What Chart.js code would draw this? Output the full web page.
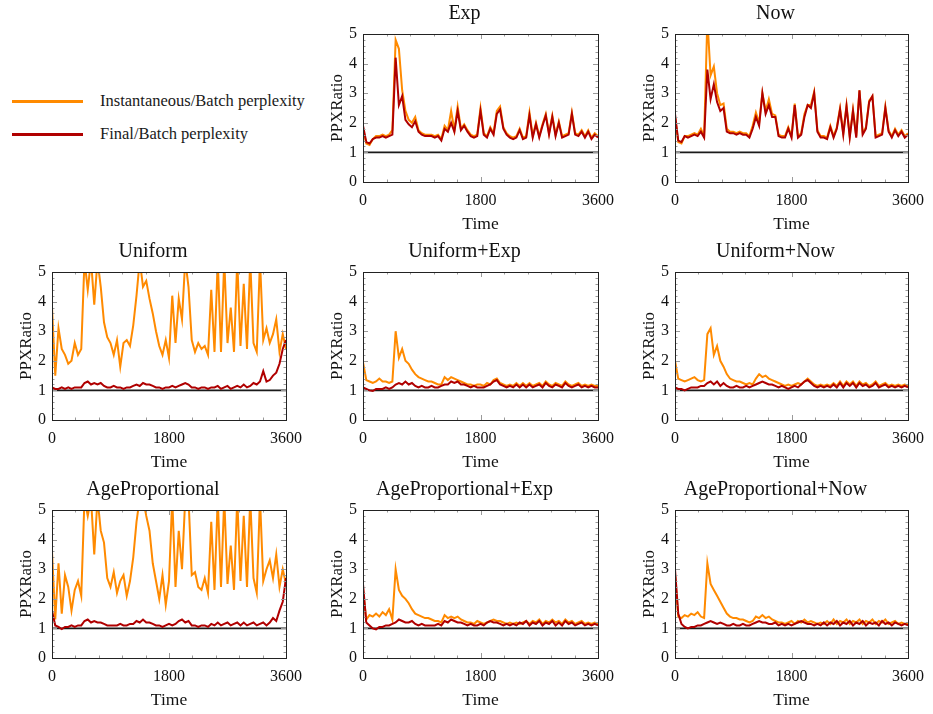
<!DOCTYPE html>
<html>
<head>
<meta charset="utf-8">
<script src="https://cdn.jsdelivr.net/npm/chart.js@4"></script>
<style>
  body { margin: 0; background: #fff; width: 933px; height: 714px; position: relative; overflow: hidden; font-family: "Liberation Serif", "Times New Roman", serif; }
  canvas { position: absolute; }
  .key { position: absolute; left: 12px; width: 71px; height: 3px; }
  .keytext { position: absolute; left: 100px; font-size: 16.5px; line-height: 20px; color: #1a1a1a; white-space: nowrap; }
</style>
</head>
<body>
<div class="key" style="top:100px;background:#ff8a00"></div>
<div class="keytext" style="top:91px">Instantaneous/Batch perplexity</div>
<div class="key" style="top:133px;background:#b00000"></div>
<div class="keytext" style="top:124px">Final/Batch perplexity</div>
<script>
// time axis (seconds) shared by every panel
const times = [0,50,100,150,200,250,300,350,400,450,500,550,600,650,700,750,800,850,900,950,
  1000,1050,1100,1150,1200,1250,1300,1350,1400,1450,1500,1550,1600,1650,1700,1750,1800,1850,1900,1950,
  2000,2050,2100,2150,2200,2250,2300,2350,2400,2450,2500,2550,2600,2650,2700,2750,2800,2850,2900,2950,
  3000,3050,3100,3150,3200,3250,3300,3350,3400,3450,3500,3550,3600];
const xTicks = [0, 1800, 3600];
const yTicks = [0, 1, 2, 3, 4, 5];
const baseline = 1;

// Instantaneous/Batch (orange) and Final/Batch (red) ratios per policy
const expInst = [1.8,1.3,1.25,1.45,1.55,1.55,1.6,1.55,1.6,1.75, 4.8,4.5,3.1,2.4,2.1,2.0,2.2,1.75,1.65,1.6,
  1.6,1.6,1.55,1.6,1.45,1.9,1.75,2.4,1.75,2.55, 1.8,1.95,1.75,1.6,1.55,1.6,2.5,1.65,1.55,1.85,
  1.65,2.4,2.55,1.85,1.65,1.55,1.5,1.55,1.8,1.5, 1.55,2.35,1.55,2.0,1.55,1.95,2.3,1.65,2.25,1.6,
  2.05,1.55,1.6,1.65,2.35,1.65,1.6,1.75,1.55,1.75, 1.5,1.65,1.55];
const expFinal = [1.9,1.35,1.3,1.45,1.5,1.5,1.55,1.5,1.55,1.6, 4.2,2.6,2.9,2.1,1.95,1.85,2.05,1.7,1.6,1.55,
  1.55,1.55,1.5,1.55,1.4,1.8,1.7,2.0,1.7,2.4, 1.75,1.9,1.7,1.55,1.5,1.55,2.4,1.6,1.5,1.8,
  1.6,2.3,2.45,1.8,1.6,1.5,1.45,1.5,1.75,1.45, 1.5,2.25,1.5,1.95,1.5,1.9,2.25,1.6,2.2,1.55,
  2.0,1.5,1.55,1.6,2.3,1.6,1.55,1.7,1.5,1.7, 1.45,1.6,1.5];

const nowInst = [2.2,1.35,1.3,1.55,1.55,1.6,1.65,1.6,1.8,1.55, 5.5,3.6,3.9,3.0,2.6,2.65,1.8,1.7,1.7,1.65,
  1.7,1.65,1.65,1.55,1.9,2.35,2.0,3.0,2.4,2.8, 2.3,2.25,1.6,1.55,1.55,1.85,1.55,2.65,1.55,1.65,
  2.3,2.6,2.6,3.05,1.75,1.55,1.55,1.5,1.9,1.55, 1.85,2.5,1.65,2.6,1.55,2.45,1.55,3.1,1.65,1.85,
  2.75,2.9,1.55,1.6,1.65,2.55,1.75,1.55,1.8,1.6, 1.75,1.55,1.65];
const nowFinal = [2.3,1.4,1.35,1.55,1.5,1.55,1.6,1.55,1.7,1.5, 3.8,2.8,3.3,2.7,2.4,2.5,1.7,1.65,1.65,1.6,
  1.65,1.6,1.6,1.5,1.8,2.2,1.9,3.0,2.3,2.6, 2.2,2.2,1.55,1.5,1.5,1.8,1.5,2.6,1.5,1.6,
  2.2,2.6,2.5,3.0,1.7,1.5,1.5,1.45,1.85,1.5, 1.8,2.45,1.6,2.55,1.5,2.4,1.5,3.1,1.6,1.8,
  2.7,2.9,1.5,1.55,1.6,2.5,1.7,1.5,1.75,1.55, 1.7,1.5,1.6];

const uniInst = [3.8,1.5,3.1,2.4,2.2,1.9,2.0,2.6,2.2,2.4, 5.4,4.4,5.4,3.9,5.4,4.5,3.3,2.8,2.6,2.2,
  2.7,1.8,2.6,2.7,2.5,3.2,4.2,5.4,4.5,4.7, 4.1,3.6,3.0,2.5,2.2,2.7,2.1,4.2,2.6,4.1,
  3.4,5.4,4.5,2.7,2.3,2.6,2.4,2.5,2.2,4.4, 2.3,5.4,2.3,5.4,2.6,3.8,2.3,5.4,2.5,4.6,
  2.4,5.4,2.6,2.3,5.4,2.7,3.1,2.6,2.9,3.4, 2.3,2.9,2.4];
const uniFinal = [1.1,1.05,1.05,1.1,1.05,1.1,1.05,1.1,1.1,1.1, 1.25,1.3,1.2,1.25,1.2,1.25,1.15,1.1,1.1,1.15,
  1.1,1.1,1.05,1.1,1.1,1.15,1.2,1.15,1.25,1.2, 1.2,1.15,1.1,1.1,1.05,1.1,1.1,1.15,1.1,1.15,
  1.2,1.25,1.2,1.1,1.1,1.05,1.1,1.1,1.05,1.1, 1.1,1.15,1.05,1.1,1.15,1.05,1.1,1.15,1.1,1.2,
  1.1,1.15,1.25,1.2,1.3,1.65,1.3,1.35,1.5,1.6, 1.9,2.4,2.7];

const uniExpInst = [1.95,1.35,1.3,1.25,1.3,1.4,1.3,1.3,1.25,1.3, 3.0,2.1,2.4,2.0,1.9,1.7,1.55,1.45,1.4,1.35,
  1.3,1.3,1.25,1.2,1.2,1.45,1.35,1.45,1.4,1.35, 1.3,1.25,1.2,1.2,1.15,1.2,1.2,1.15,1.25,1.2,
  1.35,1.4,1.25,1.2,1.15,1.2,1.15,1.25,1.15,1.25, 1.15,1.25,1.15,1.2,1.25,1.15,1.3,1.2,1.15,1.25,
  1.2,1.15,1.3,1.2,1.15,1.2,1.25,1.15,1.2,1.15, 1.2,1.15,1.15];
const uniExpFinal = [1.1,1.05,1.0,0.98,1.05,1.05,1.05,1.1,1.05,1.1, 1.2,1.25,1.2,1.3,1.2,1.25,1.15,1.1,1.15,1.1,
  1.1,1.15,1.1,1.1,1.15,1.2,1.2,1.3,1.25,1.3, 1.2,1.2,1.15,1.1,1.15,1.1,1.1,1.1,1.15,1.2,
  1.3,1.35,1.2,1.15,1.1,1.15,1.1,1.2,1.1,1.2, 1.1,1.2,1.1,1.15,1.2,1.1,1.25,1.15,1.1,1.2,
  1.15,1.1,1.25,1.15,1.1,1.15,1.2,1.1,1.15,1.1, 1.15,1.1,1.1];

const uniNowInst = [2.0,1.4,1.35,1.3,1.35,1.4,1.45,1.35,1.3,1.35, 2.9,3.1,2.2,2.5,2.0,1.8,1.55,1.4,1.35,1.3,
  1.3,1.25,1.2,1.25,1.2,1.4,1.55,1.45,1.5,1.4, 1.35,1.3,1.25,1.2,1.15,1.2,1.15,1.2,1.25,1.2,
  1.3,1.4,1.3,1.2,1.15,1.2,1.15,1.2,1.15,1.25, 1.15,1.3,1.15,1.3,1.2,1.3,1.15,1.3,1.2,1.25,
  1.15,1.2,1.3,1.15,1.2,1.25,1.15,1.2,1.15,1.2, 1.15,1.2,1.15];
const uniNowFinal = [1.1,1.05,1.05,1.0,1.05,1.1,1.1,1.1,1.15,1.15, 1.25,1.3,1.2,1.3,1.15,1.25,1.15,1.1,1.1,1.15,
  1.1,1.1,1.15,1.1,1.15,1.2,1.25,1.3,1.25,1.2, 1.2,1.15,1.1,1.15,1.1,1.05,1.1,1.15,1.1,1.2,
  1.3,1.35,1.25,1.15,1.1,1.15,1.1,1.15,1.1,1.2, 1.1,1.25,1.1,1.25,1.15,1.25,1.1,1.25,1.15,1.2,
  1.1,1.15,1.25,1.1,1.15,1.2,1.1,1.15,1.1,1.15, 1.1,1.15,1.1];

const ageInst = [3.6,1.3,3.2,1.5,2.8,2.4,1.6,2.3,2.6,2.1, 5.4,4.8,5.4,3.5,5.4,4.3,3.9,2.7,2.4,2.9,
  2.2,2.6,2.8,2.1,2.6,3.4,4.6,5.4,5.4,4.8, 4.3,3.2,2.6,2.0,2.8,1.8,2.6,5.4,2.4,4.3,
  3.0,5.4,5.4,2.8,2.9,2.4,2.3,2.7,2.2,4.6, 2.3,5.4,2.4,5.4,2.5,3.8,2.3,5.4,2.6,4.8,
  2.4,5.4,2.7,2.2,5.4,2.6,3.0,3.3,2.7,3.5, 2.4,3.0,2.5];
const ageFinal = [1.6,1.1,1.05,0.98,1.05,1.05,1.1,1.05,1.1,1.1, 1.25,1.3,1.2,1.25,1.2,1.2,1.15,1.1,1.1,1.1,
  1.1,1.15,1.1,1.1,1.15,1.15,1.25,1.2,1.3,1.2, 1.2,1.15,1.1,1.1,1.05,1.1,1.15,1.1,1.15,1.25,
  1.3,1.2,1.25,1.1,1.1,1.05,1.1,1.1,1.05,1.15, 1.1,1.2,1.1,1.15,1.2,1.1,1.15,1.2,1.1,1.2,
  1.1,1.15,1.2,1.1,1.15,1.2,1.1,1.2,1.35,1.25, 1.6,1.9,2.7];

const ageExpInst = [2.3,1.3,1.45,1.4,1.5,1.4,1.55,1.45,1.65,1.3, 3.0,2.3,2.1,2.0,1.85,1.65,1.5,1.45,1.4,1.35,
  1.35,1.3,1.25,1.25,1.2,1.45,1.35,1.4,1.35,1.4, 1.3,1.25,1.2,1.2,1.15,1.25,1.2,1.15,1.2,1.25,
  1.3,1.25,1.25,1.2,1.15,1.2,1.15,1.2,1.15,1.2, 1.25,1.15,1.25,1.2,1.3,1.15,1.25,1.2,1.3,1.2,
  1.25,1.15,1.3,1.2,1.25,1.15,1.2,1.25,1.15,1.2, 1.15,1.2,1.15];
const ageExpFinal = [2.5,1.2,1.1,1.0,0.97,1.05,1.05,1.1,1.1,1.15, 1.2,1.3,1.25,1.2,1.2,1.25,1.15,1.1,1.15,1.1,
  1.1,1.1,1.1,1.15,1.1,1.25,1.2,1.3,1.25,1.2, 1.2,1.15,1.1,1.15,1.1,1.1,1.15,1.1,1.2,1.25,
  1.2,1.2,1.15,1.1,1.15,1.1,1.15,1.1,1.2,1.15, 1.25,1.1,1.2,1.15,1.25,1.1,1.2,1.15,1.25,1.1,
  1.2,1.1,1.25,1.15,1.2,1.1,1.15,1.2,1.1,1.15, 1.1,1.15,1.1];

const ageNowInst = [2.8,1.4,1.35,1.45,1.4,1.5,1.45,1.55,1.4,1.35, 3.2,2.5,2.3,2.1,1.9,1.7,1.5,1.4,1.35,1.35,
  1.3,1.3,1.25,1.2,1.25,1.4,1.35,1.45,1.35,1.4, 1.3,1.25,1.2,1.2,1.15,1.2,1.25,1.15,1.25,1.2,
  1.3,1.2,1.25,1.2,1.15,1.2,1.15,1.25,1.15,1.3, 1.15,1.25,1.2,1.3,1.15,1.25,1.2,1.3,1.15,1.25,
  1.2,1.3,1.15,1.25,1.2,1.3,1.15,1.2,1.25,1.15, 1.2,1.15,1.15];
const ageNowFinal = [3.0,1.5,1.15,1.05,1.0,1.05,1.05,1.1,1.1,1.15, 1.2,1.25,1.2,1.15,1.2,1.15,1.1,1.1,1.15,1.1,
  1.1,1.15,1.1,1.1,1.15,1.2,1.25,1.2,1.2,1.15, 1.15,1.2,1.1,1.15,1.1,1.15,1.1,1.15,1.2,1.25,
  1.2,1.15,1.15,1.1,1.15,1.1,1.2,1.1,1.2,1.15, 1.25,1.1,1.2,1.15,1.25,1.1,1.2,1.15,1.25,1.1,
  1.2,1.15,1.2,1.1,1.25,1.15,1.2,1.1,1.2,1.15, 1.1,1.15,1.1];

const ORANGE = "#ff8a00";
const RED = "#b00000";
const SERIF = '"Liberation Serif", "Times New Roman", serif';

// plot-area rectangles in page pixels
const panels = [
  { title: "Exp", inst: expInst, fin: expFinal, l: 363, t: 34, r: 602, b: 182 },
  { title: "Now", inst: nowInst, fin: nowFinal, l: 675, t: 34, r: 912, b: 182 },
  { title: "Uniform", inst: uniInst, fin: uniFinal, l: 52, t: 272, r: 290, b: 420 },
  { title: "Uniform+Exp", inst: uniExpInst, fin: uniExpFinal, l: 363, t: 272, r: 602, b: 420 },
  { title: "Uniform+Now", inst: uniNowInst, fin: uniNowFinal, l: 675, t: 272, r: 912, b: 420 },
  { title: "AgeProportional", inst: ageInst, fin: ageFinal, l: 52, t: 510, r: 290, b: 658 },
  { title: "AgeProportional+Exp", inst: ageExpInst, fin: ageExpFinal, l: 363, t: 510, r: 602, b: 658 },
  { title: "AgeProportional+Now", inst: ageNowInst, fin: ageNowFinal, l: 675, t: 510, r: 912, b: 658 }
];

const PAD_L = 36, PAD_T = 34, PAD_R = 21, PAD_B = 56;

// Mathematica-like frame with inward ticks
const frameTicks = {
  id: "frameTicks",
  afterDraw(chart) {
    const { ctx, chartArea: a, scales: { x, y } } = chart;
    ctx.save();
    ctx.strokeStyle = "#9a9a9a";
    ctx.lineWidth = 1;
    ctx.beginPath();
    for (let k = 0; k <= 25; k++) {
      const py = Math.round(y.getPixelForValue(k / 5)) + 0.5;
      const len = k % 5 === 0 ? 5 : 2.5;
      ctx.moveTo(a.left, py); ctx.lineTo(a.left + len, py);
      ctx.moveTo(a.right, py); ctx.lineTo(a.right - len, py);
    }
    for (let k = 0; k <= 10; k++) {
      const px = Math.round(x.getPixelForValue(k * 360)) + 0.5;
      const len = k % 5 === 0 ? 5 : 2.5;
      ctx.moveTo(px, a.bottom); ctx.lineTo(px, a.bottom - len);
      ctx.moveTo(px, a.top); ctx.lineTo(px, a.top + len);
    }
    ctx.stroke();
    ctx.strokeStyle = "#222";
    ctx.strokeRect(Math.round(a.left) + 0.5, Math.round(a.top) + 0.5, Math.round(a.right - a.left), Math.round(a.bottom - a.top));
    ctx.restore();
  }
};

function points(values) {
  return values.map((v, i) => ({ x: times[i], y: v }));
}

panels.forEach(p => {
  const w = (p.r - p.l) + PAD_L + PAD_R;
  const h = (p.b - p.t) + PAD_T + PAD_B;
  const canvas = document.createElement("canvas");
  canvas.width = w;
  canvas.height = h;
  canvas.style.width = w + "px";
  canvas.style.height = h + "px";
  canvas.style.left = (p.l - PAD_L) + "px";
  canvas.style.top = (p.t - PAD_T) + "px";
  document.body.appendChild(canvas);

  const lineStyle = { pointRadius: 0, tension: 0, fill: false, clip: 0 };
  new Chart(canvas, {
    type: "line",
    data: {
      datasets: [
        { label: "Final/Batch perplexity", data: points(p.fin), borderColor: RED, borderWidth: 2, ...lineStyle },
        { label: "Instantaneous/Batch perplexity", data: points(p.inst), borderColor: ORANGE, borderWidth: 2, ...lineStyle },
        { label: "1", data: [{ x: times[0], y: baseline }, { x: times[times.length - 1], y: baseline }], borderColor: "#1a1a1a", borderWidth: 1.6, ...lineStyle }
      ]
    },
    options: {
      responsive: false,
      animation: false,
      devicePixelRatio: 1,
      layout: { padding: { left: 0, top: 0, right: PAD_R, bottom: 0 } },
      plugins: {
        legend: { display: false },
        tooltip: { enabled: false },
        title: {
          display: true, text: p.title, color: "#111",
          font: { family: SERIF, size: 20, weight: "normal" },
          padding: { top: 1.5, bottom: 8.5 }
        }
      },
      scales: {
        x: {
          type: "linear", min: 0, max: 3600,
          afterBuildTicks: ax => { ax.ticks = xTicks.map(v => ({ value: v })); },
          grid: { display: false, drawTicks: false },
          border: { display: false },
          ticks: { padding: 9, color: "#111", maxRotation: 0, autoSkip: false, font: { family: SERIF, size: 16 }, callback: v => String(v) },
          title: { display: true, text: "Time", color: "#111", font: { family: SERIF, size: 17.5 }, padding: { top: 0, bottom: 3 } },
          afterFit: s => { s.height = PAD_B; }
        },
        y: {
          min: 0, max: 5,
          afterBuildTicks: ax => { ax.ticks = yTicks.map(v => ({ value: v })); },
          grid: { display: false, drawTicks: false },
          border: { display: false },
          ticks: { padding: 6, color: "#111", font: { family: SERIF, size: 16 }, callback: v => String(v) },
          title: { display: true, text: "PPXRatio", color: "#111", font: { family: SERIF, size: 17 }, padding: { top: 0, bottom: 0 } },
          afterFit: s => { s.width = PAD_L; }
        }
      }
    },
    plugins: [frameTicks]
  });
});
</script>
</body>
</html>
